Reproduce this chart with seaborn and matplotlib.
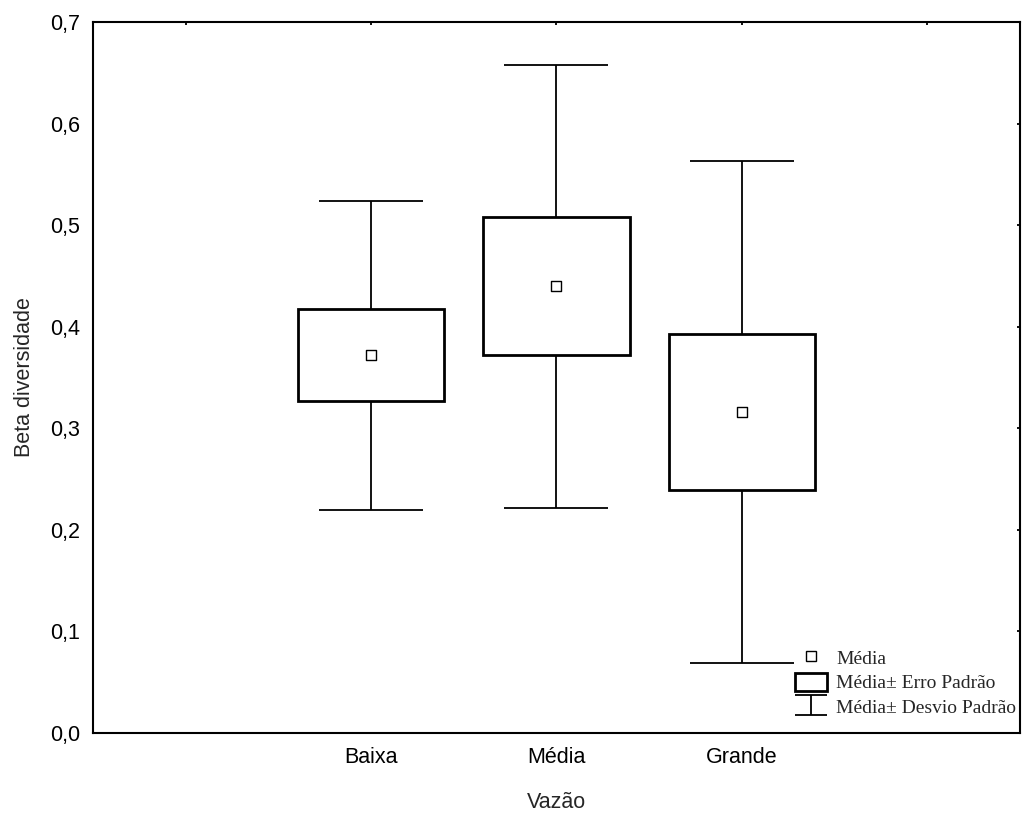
import numpy as np
import pandas as pd
import matplotlib
matplotlib.use("Agg")
import matplotlib.pyplot as plt
import seaborn as sns
from matplotlib.lines import Line2D
from matplotlib.patches import Patch

# ------------------ data ------------------
categories = ["Baixa", "Média", "Grande"]
means = [0.372, 0.440, 0.316]
se = [0.045, 0.068, 0.077]
sd = [0.152, 0.218, 0.247]

tick_labels = [""] + categories + [""]

sns.set_style("white")
plt.rcParams["font.family"] = ["Liberation Sans", "DejaVu Sans"]

df = pd.DataFrame({"pos": [1, 2, 3], "mean": means, "se": se, "sd": sd})

fig = plt.figure(figsize=(10.24, 8.14), dpi=100)
ax = fig.add_axes([0.0908, 0.0995, 0.9053, 0.8735])

# whiskers: mean +- sd
ax.errorbar(df["pos"], df["mean"], yerr=df["sd"], fmt="none", ecolor="black",
            elinewidth=1.3, capsize=37.5, capthick=1.3, zorder=1)

# boxes: mean +- se
ax.bar(df["pos"], 2 * df["se"], bottom=df["mean"] - df["se"], width=0.79,
       color="white", edgecolor="black", linewidth=2.0, zorder=2)

# mean markers
sns.scatterplot(data=df, x="pos", y="mean", marker="s", s=55, color="white",
                edgecolor="black", linewidth=1.0, zorder=3, ax=ax, legend=False)

# legend proxy for the whisker glyph (outside view)
eb_proxy = ax.errorbar([-10], [0.5], yerr=[0.1], fmt="none", ecolor="black",
                       elinewidth=1.3, capsize=11.5, capthick=1.3)

h_mean = Line2D([], [], marker="s", linestyle="none", markersize=7,
                markerfacecolor="white", markeredgecolor="black", markeredgewidth=1.0)
h_box = Patch(facecolor="white", edgecolor="black", linewidth=2.0)
ax.legend([h_mean, h_box, eb_proxy],
          ["Média", "Média± Erro Padrão", "Média± Desvio Padrão"],
          loc="lower right", bbox_to_anchor=(1.004, 0.012), frameon=False,
          prop={"family": "Liberation Serif", "size": 14},
          handlelength=1.65, handleheight=1.05, handletextpad=0.45,
          labelspacing=0.25, borderaxespad=0.0)

ax.set_xlim(-0.5, 4.5)
ax.set_ylim(0, 0.7)
ax.set_xticks(range(5))
ax.set_xticklabels(tick_labels)
ax.set_yticks(np.arange(0, 0.71, 0.1))
ax.set_yticklabels([f"{v:.1f}".replace(".", ",") for v in np.arange(0, 0.71, 0.1)])
ax.tick_params(direction="in", length=2.5, width=1.3, top=True, right=True,
               labelsize=15.5, colors="black", pad=10)
ax.tick_params(axis="y", pad=9)
for s in ax.spines.values():
    s.set_color("black")
    s.set_linewidth(1.5)

ax.set_xlabel("Vazão", fontsize=15.5, labelpad=17)
ax.set_ylabel("Beta diversidade", fontsize=15.5, labelpad=11)

fig.savefig("out.png", dpi=100)
